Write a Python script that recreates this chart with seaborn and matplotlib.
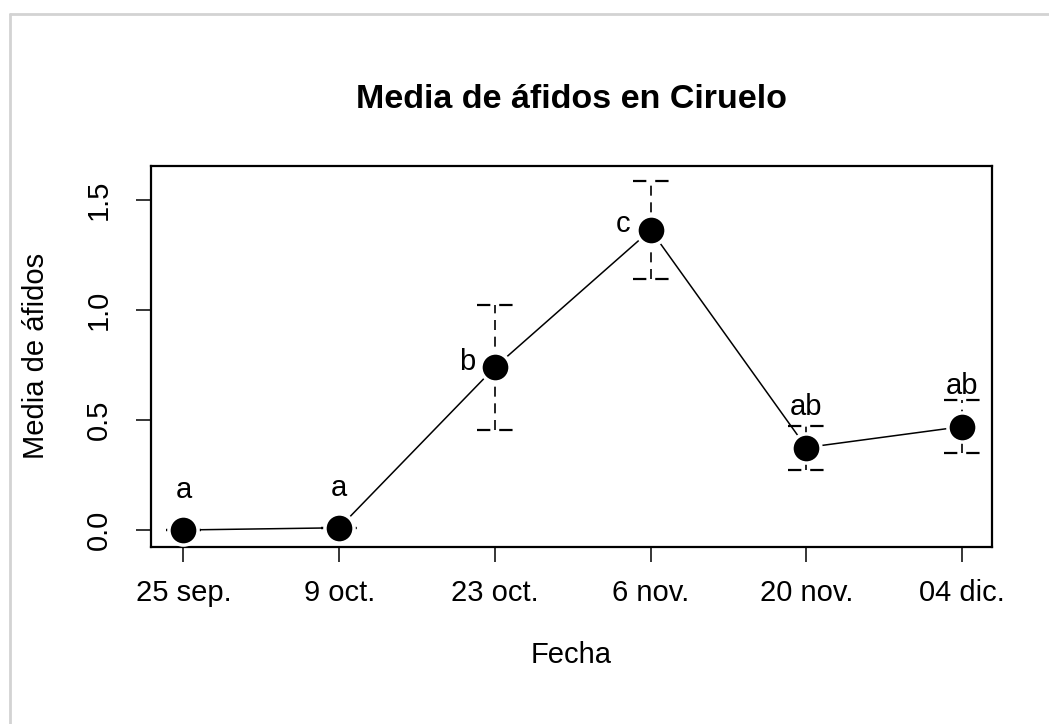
import numpy as np
import pandas as pd
import matplotlib
matplotlib.use("Agg")
import matplotlib.pyplot as plt
from matplotlib.lines import Line2D
import seaborn as sns

# ---- data ----
fechas = ["25 sep.", "9 oct.", "23 oct.", "6 nov.", "20 nov.", "04 dic."]
medias = [0.0, 0.01, 0.74, 1.364, 0.375, 0.47]
errores = [0.0, 0.0, 0.285, 0.224, 0.10, 0.12]
letras = ["a", "a", "b", "c", "ab", "ab"]
posicion_letra = ["arriba", "arriba", "izquierda", "izquierda", "arriba", "arriba"]
yticks = [0.0, 0.5, 1.0, 1.5]
titulo = "Media de áfidos en Ciruelo"
etiqueta_x = "Fecha"
etiqueta_y = "Media de áfidos"

sns.set_theme(style="white")
plt.rcParams["font.family"] = ["Liberation Sans", "DejaVu Sans"]

df = pd.DataFrame({"pos": np.arange(len(fechas)), "fecha": fechas,
                   "media": medias, "se": errores})
df["lo"] = df["media"] - df["se"]
df["hi"] = df["media"] + df["se"]

W, H = 1049, 724
fig = plt.figure(figsize=(W / 100, H / 100), dpi=100)
fig.patch.set_facecolor("white")
ax = fig.add_axes([0.1437, 0.2449, 0.8017, 0.5258])

# connecting line
sns.lineplot(data=df, x="pos", y="media", color="black", lw=1.1, ax=ax,
             zorder=2, legend=False)

# dashed error bars with dashed caps
cap = 0.115
dash = (0, (6, 4))
ax.vlines(df["pos"], df["lo"], df["hi"], colors="black",
          linestyles=dash, lw=1.2, zorder=3)
ax.hlines(df["hi"], df["pos"] - cap, df["pos"] + cap, colors="black",
          linestyles=dash, lw=1.6, zorder=3)
ax.hlines(df["lo"], df["pos"] - cap, df["pos"] + cap, colors="black",
          linestyles=dash, lw=1.6, zorder=3)

# points
sns.scatterplot(data=df, x="pos", y="media", s=440, color="black",
                edgecolor="white", linewidth=2.5, ax=ax, zorder=5,
                legend=False)

# significance letters
for x, m, l, p in zip(df["pos"], df["media"], letras, posicion_letra):
    if p == "arriba":
        off = (0, 29)
    else:
        off = (-20, 4)
    ax.annotate(l, (x, m), xytext=off, textcoords="offset points",
                ha="center", va="center", fontsize=21, color="black",
                zorder=6)

ax.set_xlim(-0.21, 5.19)
ax.set_ylim(-0.076, 1.655)
ax.set_xticks(df["pos"], fechas)
ax.set_yticks(yticks, [f"{v:.1f}" for v in yticks])
for lab in ax.get_yticklabels():
    lab.set_rotation(90)
    lab.set_va("center")
ax.tick_params(axis="both", direction="out", length=11, width=1.1,
               colors="black", labelsize=21, bottom=True, left=True)
ax.tick_params(axis="x", pad=12)
ax.tick_params(axis="y", pad=16)

for s in ax.spines.values():
    s.set_visible(True)
    s.set_color("black")
    s.set_linewidth(1.6)

ax.set_xlabel(etiqueta_x, fontsize=21, color="black")
ax.set_ylabel(etiqueta_y, fontsize=21, color="black")
ax.xaxis.set_label_coords(0.5, -(655 - 546.7) / 379.7)
ax.xaxis.label.set_va("center")
ax.yaxis.set_label_coords((36 - 150.7) / 841.0, 0.5)
ax.yaxis.label.set_va("center")

ax.set_title(titulo, fontsize=24.5, fontweight="bold", pad=42, color="black")

# light grey frame of the exported image
fig.add_artist(Line2D([10 / W, 1], [1 - 14 / H, 1 - 14 / H],
                      transform=fig.transFigure, color="#d3d3d3", lw=2))
fig.add_artist(Line2D([10 / W, 10 / W], [0, 1 - 14 / H],
                      transform=fig.transFigure, color="#d3d3d3", lw=2))

fig.savefig("out.png", dpi=100, facecolor="white")
